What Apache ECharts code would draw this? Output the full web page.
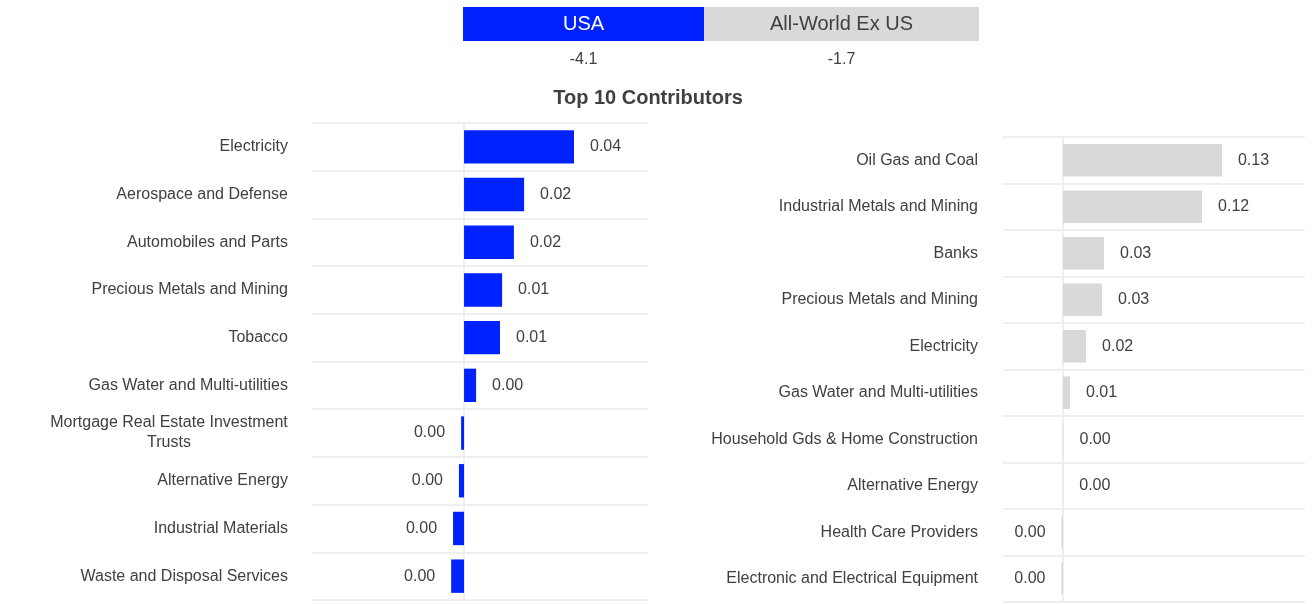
<!DOCTYPE html>
<html>
<head>
<meta charset="utf-8">
<script src="https://cdn.jsdelivr.net/npm/echarts@6/dist/echarts.min.js"></script>
<style>
  html, body { margin: 0; padding: 0; background: #ffffff; }
  #chart { width: 1312px; height: 604px; }
</style>
</head>
<body>
<div id="chart"></div>
<script>
const regionNames = ['USA', 'All-World Ex US'];
const regionTotals = [-4.1, -1.7];
const chartTitle = 'Top 10 Contributors';

const usaCategories = [
  'Electricity',
  'Aerospace and Defense',
  'Automobiles and Parts',
  'Precious Metals and Mining',
  'Tobacco',
  'Gas Water and Multi-utilities',
  'Mortgage Real Estate Investment Trusts',
  'Alternative Energy',
  'Industrial Materials',
  'Waste and Disposal Services'
];
const usaValues = [0.041, 0.0224, 0.0186, 0.0142, 0.0134, 0.0045, -0.0011, -0.0019, -0.0041, -0.0048];

const worldCategories = [
  'Oil Gas and Coal',
  'Industrial Metals and Mining',
  'Banks',
  'Precious Metals and Mining',
  'Electricity',
  'Gas Water and Multi-utilities',
  'Household Gds & Home Construction',
  'Alternative Energy',
  'Health Care Providers',
  'Electronic and Electrical Equipment'
];
const worldValues = [0.134, 0.1172, 0.0346, 0.0329, 0.0194, 0.0059, 0.0004, 0.0002, -0.0012, -0.0013];

const FONT = '"Liberation Sans", Arial, sans-serif';
const TEXT = '#404040';
const USA_COLOR = '#0022ff';
const WORLD_COLOR = '#d9d9d9';
const LINE = '#efefef';

const cvs = document.createElement('canvas').getContext('2d');
function measure(t) { cvs.font = '16px ' + FONT; return cvs.measureText(t).width; }

function splitLines(name, maxW) {
  const words = name.split(' ');
  const lines = [];
  let cur = '';
  words.forEach(w => {
    const test = cur ? cur + ' ' + w : w;
    if (cur && measure(test) > maxW) { lines.push(cur); cur = w; } else { cur = test; }
  });
  if (cur) lines.push(cur);
  return lines;
}

const LEFT_MAX = 270;
let wrapW = 0;
usaCategories.forEach(n => {
  const ls = splitLines(n, LEFT_MAX);
  if (ls.length > 1) ls.forEach(l => { wrapW = Math.max(wrapW, Math.ceil(measure(l))); });
});

function leftLabel(name) {
  const ls = splitLines(name, LEFT_MAX);
  if (ls.length === 1) return name;
  return ls.map(l => '{c|' + l + '}').join('\n');
}

function fmt(v) { return (Math.round(v * 100) / 100).toFixed(2); }

function barData(values) {
  return values.map(v => ({
    value: v,
    label: { position: v < 0 ? 'left' : 'right' }
  }));
}

function catAxis(gridIndex, data, extraLabel) {
  return Object.assign({
    type: 'category',
    gridIndex: gridIndex,
    data: data,
    inverse: true,
    axisTick: { show: false },
    axisLine: { show: true, onZero: true, lineStyle: { color: LINE, width: 2 } },
    splitLine: { show: true, lineStyle: { color: LINE, width: 2 } }
  }, extraLabel);
}

const chart = echarts.init(document.getElementById('chart'), null, { renderer: 'canvas' });

const option = {
  backgroundColor: '#ffffff',
  animation: false,
  textStyle: { fontFamily: FONT },
  grid: [
    { left: 312, top: 123, width: 336, height: 477 },
    { left: 1003, top: 137, width: 302, height: 465 }
  ],
  xAxis: [
    { type: 'value', gridIndex: 0, min: -0.0567, max: 0.0686, show: false },
    { type: 'value', gridIndex: 1, min: -0.0506, max: 0.204, show: false }
  ],
  yAxis: [
    catAxis(0, usaCategories, {
      axisLabel: {
        margin: 24, fontSize: 16, color: TEXT, fontFamily: FONT,
        formatter: leftLabel,
        rich: { c: { width: wrapW, align: 'center', fontSize: 16, color: TEXT, lineHeight: 20, fontFamily: FONT } }
      }
    }),
    catAxis(1, worldCategories, {
      axisLabel: { margin: 25, fontSize: 16, color: TEXT, fontFamily: FONT }
    })
  ],
  series: [
    {
      name: regionNames[0], type: 'bar', xAxisIndex: 0, yAxisIndex: 0,
      barWidth: '70%',
      itemStyle: { color: USA_COLOR },
      label: { show: true, distance: 16, fontSize: 16, color: TEXT, fontFamily: FONT, formatter: p => fmt(p.value) },
      data: barData(usaValues)
    },
    {
      name: regionNames[1], type: 'bar', xAxisIndex: 1, yAxisIndex: 1,
      barWidth: '70%',
      itemStyle: { color: WORLD_COLOR },
      label: { show: true, distance: 16, fontSize: 16, color: TEXT, fontFamily: FONT, formatter: p => fmt(p.value) },
      data: barData(worldValues)
    }
  ],
  graphic: [
    { type: 'rect', shape: { x: 463, y: 7, width: 241, height: 34 }, style: { fill: USA_COLOR }, silent: true },
    { type: 'rect', shape: { x: 704, y: 7, width: 275, height: 34 }, style: { fill: WORLD_COLOR }, silent: true },
    { type: 'text', style: { text: regionNames[0], x: 583.5, y: 24, align: 'center', verticalAlign: 'middle', fill: '#ffffff', font: '20px ' + FONT } },
    { type: 'text', style: { text: regionNames[1], x: 841.5, y: 24, align: 'center', verticalAlign: 'middle', fill: TEXT, font: '20px ' + FONT } },
    { type: 'text', style: { text: String(regionTotals[0]), x: 583.5, y: 60, align: 'center', verticalAlign: 'middle', fill: TEXT, font: '16px ' + FONT } },
    { type: 'text', style: { text: String(regionTotals[1]), x: 841.5, y: 60, align: 'center', verticalAlign: 'middle', fill: TEXT, font: '16px ' + FONT } },
    { type: 'text', style: { text: chartTitle, x: 648, y: 98, align: 'center', verticalAlign: 'middle', fill: TEXT, font: 'bold 20px ' + FONT } }
  ]
};

chart.setOption(option);
</script>
</body>
</html>
